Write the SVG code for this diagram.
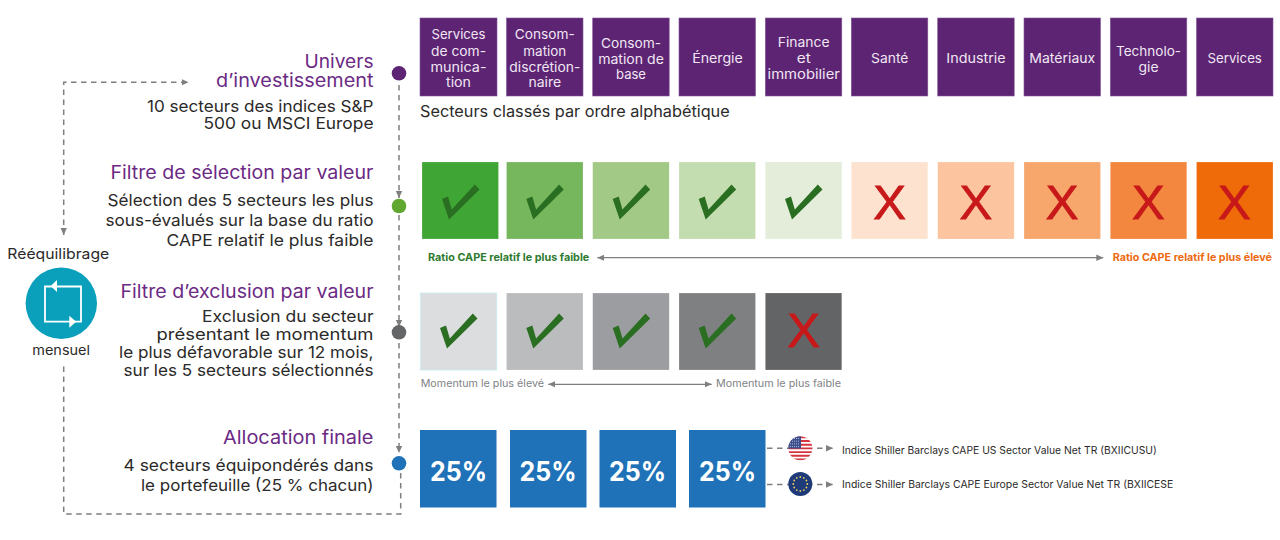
<svg xmlns="http://www.w3.org/2000/svg" width="1280" height="540" viewBox="0 0 1280 540">
<style>
text{font-family:Inter,"Noto Sans","Liberation Sans",sans-serif;}
.h{font-size:18.5px;fill:#6b2a84;text-anchor:end}
.b{font-size:16.5px;fill:#2b2a29;text-anchor:end}
.t{font-size:13.5px;fill:#f1e6f4;text-anchor:middle}
.p{fill:#5c2472;stroke:#83579a;stroke-width:.6}
.s{stroke:#fff;stroke-opacity:.35;stroke-width:.6}
.x{font-family:"Liberation Sans",Arial,sans-serif;font-size:49px;fill:#c8191a;stroke:#c8191a;stroke-width:.9;text-anchor:middle}
.p25{font-size:27px;font-weight:700;fill:#fff;text-anchor:middle}
.d{fill:none;stroke:#7f7f7f;stroke-width:1.5;stroke-dasharray:5.5 4.5}
.l{fill:none;stroke:#7f7f7f;stroke-width:1.3}
.m{font-size:10.5px;fill:#808285}
.r{font-size:10.5px;font-weight:700}
.i{font-size:10.5px;fill:#2b2a29}
.c{fill:#2a6e22}
</style>
<defs>
<marker id="ah" markerUnits="userSpaceOnUse" markerWidth="8" markerHeight="8" refX="7" refY="4" orient="auto-start-reverse"><path d="M0 .8L7 4L0 7.2z" fill="#7f7f7f"/></marker>
<polygon id="chk" points="0,14 6,11.5 9.8,24.5 32.8,-.5 37.5,4.5 7,34.5"/>
<clipPath id="us"><circle cx="800.3" cy="448.3" r="12"/></clipPath>
</defs>

<g id="connectors">
<path class="d" d="M399 85V198" marker-end="url(#ah)"/>
<path class="d" d="M399 215V327" marker-end="url(#ah)"/>
<path class="d" d="M399 343V453" marker-end="url(#ah)"/>
<path class="d" d="M400.7 473V514H63.7V363"/>
<path class="d" d="M63.7 235V82.3H188.5" marker-start="url(#ah)" marker-end="url(#ah)"/>
<path class="d" d="M767 448.3H833" marker-end="url(#ah)"/>
<path class="d" d="M767 484.5H833" marker-end="url(#ah)"/>
<path class="l" d="M597.3 257.7H1103.3" marker-start="url(#ah)" marker-end="url(#ah)"/>
<path class="l" d="M548.3 384.3H711.7" marker-start="url(#ah)" marker-end="url(#ah)"/>
</g>

<g id="step-univers">
<text class="h" x="373.5" y="68.3" textLength="69" lengthAdjust="spacingAndGlyphs">Univers</text>
<text class="h" x="373.5" y="87.3" textLength="157.5" lengthAdjust="spacingAndGlyphs">d’investissement</text>
<text class="b" x="373.5" y="111.7" textLength="226.5" lengthAdjust="spacingAndGlyphs">10 secteurs des indices S&amp;P</text>
<text class="b" x="373.5" y="129.3" textLength="170" lengthAdjust="spacingAndGlyphs">500 ou MSCI Europe</text>
<circle cx="399" cy="73.3" r="7.3" fill="#5c2472"/>
</g>
<g id="step-selection">
<text class="h" x="373.5" y="179.3" textLength="263" lengthAdjust="spacingAndGlyphs">Filtre de sélection par valeur</text>
<text class="b" x="373.5" y="205.7" textLength="266" lengthAdjust="spacingAndGlyphs">Sélection des 5 secteurs les plus</text>
<text class="b" x="373.5" y="225.7" textLength="268" lengthAdjust="spacingAndGlyphs">sous-évalués sur la base du ratio</text>
<text class="b" x="373.5" y="246" textLength="207" lengthAdjust="spacingAndGlyphs">CAPE relatif le plus faible</text>
<circle cx="399" cy="206" r="7.3" fill="#5fa72f"/>
</g>
<g id="step-exclusion">
<text class="h" x="373.5" y="297.7" textLength="253" lengthAdjust="spacingAndGlyphs">Filtre d’exclusion par valeur</text>
<text class="b" x="373.5" y="321.7" textLength="171.5" lengthAdjust="spacingAndGlyphs">Exclusion du secteur</text>
<text class="b" x="373.5" y="340" textLength="217" lengthAdjust="spacingAndGlyphs">présentant le momentum</text>
<text class="b" x="373.5" y="358" textLength="254.5" lengthAdjust="spacingAndGlyphs">le plus défavorable sur 12 mois,</text>
<text class="b" x="373.5" y="375.7" textLength="250" lengthAdjust="spacingAndGlyphs">sur les 5 secteurs sélectionnés</text>
<circle cx="399" cy="332.3" r="7.3" fill="#646567"/>
</g>
<g id="step-allocation">
<text class="h" x="373.5" y="444" textLength="150.5" lengthAdjust="spacingAndGlyphs">Allocation finale</text>
<text class="b" x="373.5" y="470.7" textLength="250" lengthAdjust="spacingAndGlyphs">4 secteurs équipondérés dans</text>
<text class="b" x="373.5" y="491" textLength="232.5" lengthAdjust="spacingAndGlyphs">le portefeuille (25 % chacun)</text>
<circle cx="399" cy="463.3" r="7.3" fill="#1f72b8"/>
</g>

<g id="rebalance">
<text x="7.3" y="259" font-size="14.5" fill="#2b2a29" textLength="102" lengthAdjust="spacingAndGlyphs">Rééquilibrage</text>
<circle cx="61.3" cy="303.3" r="35.7" fill="#0aa0bc"/>
<path d="M45 286.5H81V321.7H45z" fill="none" stroke="#fff" stroke-width="1.8"/>
<path d="M50.7 286L57 280V292z M76.2 321.7L69.3 315.7V327.7z" fill="#fff"/>
<text x="32.3" y="354.7" font-size="13.5" fill="#2b2a29" textLength="57.7" lengthAdjust="spacingAndGlyphs">mensuel</text>
</g>

<g id="sectors">
<g id="sector-1"><rect class="p" x="420" y="18" width="77" height="78"/><text class="t" x="458.5" y="39.3" textLength="54" lengthAdjust="spacingAndGlyphs">Services</text><text class="t" x="458.5" y="56" textLength="55" lengthAdjust="spacingAndGlyphs">de com-</text><text class="t" x="458.5" y="71.7" textLength="56" lengthAdjust="spacingAndGlyphs">munica-</text><text class="t" x="458.5" y="87.3" textLength="25" lengthAdjust="spacingAndGlyphs">tion</text></g>
<g id="sector-2"><rect class="p" x="506.5" y="18" width="76.5" height="78"/><text class="t" x="544.8" y="39.3" textLength="60" lengthAdjust="spacingAndGlyphs">Consom-</text><text class="t" x="544.8" y="56" textLength="43" lengthAdjust="spacingAndGlyphs">mation</text><text class="t" x="544.8" y="71.7" textLength="71" lengthAdjust="spacingAndGlyphs">discrétion-</text><text class="t" x="544.8" y="87.3" textLength="32.7" lengthAdjust="spacingAndGlyphs">naire</text></g>
<g id="sector-3"><rect class="p" x="592.7" y="18" width="76.5" height="78"/><text class="t" x="631" y="47.7" textLength="60" lengthAdjust="spacingAndGlyphs">Consom-</text><text class="t" x="631" y="63.7" textLength="65.7" lengthAdjust="spacingAndGlyphs">mation de</text><text class="t" x="631" y="79.3" textLength="30" lengthAdjust="spacingAndGlyphs">base</text></g>
<g id="sector-4"><rect class="p" x="679" y="18" width="76.5" height="78"/><text class="t" x="717.5" y="63.3" textLength="50.7" lengthAdjust="spacingAndGlyphs">Énergie</text></g>
<g id="sector-5"><rect class="p" x="765.3" y="18" width="76.5" height="78"/><text class="t" x="803.7" y="47.3" textLength="52" lengthAdjust="spacingAndGlyphs">Finance</text><text class="t" x="803.7" y="63.3" textLength="14" lengthAdjust="spacingAndGlyphs">et</text><text class="t" x="803.7" y="79.3" textLength="72.3" lengthAdjust="spacingAndGlyphs">immobilier</text></g>
<g id="sector-6"><rect class="p" x="851.3" y="18" width="76.5" height="78"/><text class="t" x="889.7" y="63.3" textLength="37.3" lengthAdjust="spacingAndGlyphs">Santé</text></g>
<g id="sector-7"><rect class="p" x="937.7" y="18" width="76.5" height="78"/><text class="t" x="976" y="63.3" textLength="59.3" lengthAdjust="spacingAndGlyphs">Industrie</text></g>
<g id="sector-8"><rect class="p" x="1024" y="18" width="76.5" height="78"/><text class="t" x="1062.3" y="63.3" textLength="66" lengthAdjust="spacingAndGlyphs">Matériaux</text></g>
<g id="sector-9"><rect class="p" x="1110.3" y="18" width="76.5" height="78"/><text class="t" x="1148.5" y="55.7" textLength="65" lengthAdjust="spacingAndGlyphs">Technolo-</text><text class="t" x="1148.5" y="71.7" textLength="20" lengthAdjust="spacingAndGlyphs">gie</text></g>
<g id="sector-10"><rect class="p" x="1196.5" y="18" width="76.5" height="78"/><text class="t" x="1234.7" y="63.3" textLength="54.3" lengthAdjust="spacingAndGlyphs">Services</text></g>
<text x="420" y="116.7" font-size="15.5" fill="#2b2a29" textLength="309.7" lengthAdjust="spacingAndGlyphs">Secteurs classés par ordre alphabétique</text>
</g>

<g id="value-filter">
<g id="v1"><rect class="s" x="422" y="162" width="76.5" height="77" fill="#3fa535"/><use href="#chk" class="c" x="442" y="185"/></g>
<g id="v2"><rect class="s" x="506.5" y="162" width="76.5" height="77" fill="#76b65d"/><use href="#chk" class="c" x="526.3" y="185"/></g>
<g id="v3"><rect class="s" x="592.7" y="162" width="76.5" height="77" fill="#a2c985"/><use href="#chk" class="c" x="612.7" y="185"/></g>
<g id="v4"><rect class="s" x="679" y="162" width="76.5" height="77" fill="#c3dcb0"/><use href="#chk" class="c" x="698.7" y="185"/></g>
<g id="v5"><rect class="s" x="765.3" y="162" width="76.5" height="77" fill="#e4edd9"/><use href="#chk" class="c" x="785" y="185"/></g>
<g id="v6"><rect class="s" x="851.3" y="162" width="76.5" height="77" fill="#fde3cf"/><text class="x" x="889.5" y="219.3">X</text></g>
<g id="v7"><rect class="s" x="937.7" y="162" width="76.5" height="77" fill="#fcc5a0"/><text class="x" x="975.8" y="219.3">X</text></g>
<g id="v8"><rect class="s" x="1024" y="162" width="76.5" height="77" fill="#f7a76c"/><text class="x" x="1062" y="219.3">X</text></g>
<g id="v9"><rect class="s" x="1110.3" y="162" width="76.5" height="77" fill="#f3873f"/><text class="x" x="1148.3" y="219.3">X</text></g>
<g id="v10"><rect class="s" x="1196.5" y="162" width="76.5" height="77" fill="#ef6a08"/><text class="x" x="1234.3" y="219.3">X</text></g>
<text class="r" x="428" y="260.7" fill="#2e7a2e" textLength="161.3" lengthAdjust="spacingAndGlyphs">Ratio CAPE relatif le plus faible</text>
<text class="r" x="1112.7" y="260.7" fill="#ee6a10" textLength="159.3" lengthAdjust="spacingAndGlyphs">Ratio CAPE relatif le plus élevé</text>
</g>

<g id="momentum-filter">
<g id="e1"><rect x="420.3" y="293" width="76.5" height="77" fill="#dcddde" stroke="#c9eef2" stroke-width=".8"/><use href="#chk" class="c" x="440" y="314"/></g>
<g id="e2"><rect class="s" x="506.5" y="293" width="76.5" height="77" fill="#bbbcbe"/><use href="#chk" class="c" x="526.3" y="314"/></g>
<g id="e3"><rect class="s" x="592.7" y="293" width="76.5" height="77" fill="#9c9da0"/><use href="#chk" class="c" x="612.7" y="314"/></g>
<g id="e4"><rect class="s" x="679" y="293" width="76.5" height="77" fill="#7f8082"/><use href="#chk" class="c" x="698.7" y="314"/></g>
<g id="e5"><rect class="s" x="765.3" y="293" width="76.5" height="77" fill="#636466"/><text class="x" x="803.5" y="347">X</text></g>
<text class="m" x="420.7" y="387.3" textLength="123.3" lengthAdjust="spacingAndGlyphs">Momentum le plus élevé</text>
<text class="m" x="716" y="387.3" textLength="125" lengthAdjust="spacingAndGlyphs">Momentum le plus faible</text>
</g>

<g id="allocation">
<g id="a1"><rect x="420" y="430" width="76.5" height="77.5" fill="#1f72b8"/><text class="p25" x="458.5" y="481" textLength="57" lengthAdjust="spacingAndGlyphs">25%</text></g>
<g id="a2"><rect x="510" y="430" width="76.5" height="77.5" fill="#1f72b8"/><text class="p25" x="548" y="481" textLength="57" lengthAdjust="spacingAndGlyphs">25%</text></g>
<g id="a3"><rect x="599.5" y="430" width="76.5" height="77.5" fill="#1f72b8"/><text class="p25" x="637.5" y="481" textLength="57" lengthAdjust="spacingAndGlyphs">25%</text></g>
<g id="a4"><rect x="689" y="430" width="76.5" height="77.5" fill="#1f72b8"/><text class="p25" x="727.5" y="481" textLength="57" lengthAdjust="spacingAndGlyphs">25%</text></g>
</g>

<g id="index-us">
<g clip-path="url(#us)">
<rect x="788" y="436" width="25" height="25" fill="#fff"/>
<path d="M788 437.2h25M788 441h25M788 444.7h25M788 448.4h25M788 452.1h25M788 455.8h25M788 459.5h25" stroke="#d5343f" stroke-width="1.9"/>
<rect x="788" y="436" width="13" height="12.5" fill="#3c4f8c"/>
<path d="M790 438.5h10M790 441.2h10M790 443.9h10M790 446.6h10" stroke="#c9d1e6" stroke-width=".8" stroke-dasharray="1 1"/>
</g>
<text class="i" x="842" y="454" textLength="314.7" lengthAdjust="spacingAndGlyphs">Indice Shiller Barclays CAPE US Sector Value Net TR (BXIICUSU)</text>
</g>
<g id="index-eu">
<circle cx="800.3" cy="484" r="12" fill="#1f3a78"/>
<g fill="#e9cf5a">
<circle cx="800.3" cy="477" r=".9"/><circle cx="803.8" cy="477.9" r=".9"/><circle cx="806.4" cy="480.5" r=".9"/><circle cx="807.3" cy="484" r=".9"/><circle cx="806.4" cy="487.5" r=".9"/><circle cx="803.8" cy="490.1" r=".9"/><circle cx="800.3" cy="491" r=".9"/><circle cx="796.8" cy="490.1" r=".9"/><circle cx="794.2" cy="487.5" r=".9"/><circle cx="793.3" cy="484" r=".9"/><circle cx="794.2" cy="480.5" r=".9"/><circle cx="796.8" cy="477.9" r=".9"/>
</g>
<text class="i" x="842" y="488.3" textLength="331.3" lengthAdjust="spacingAndGlyphs">Indice Shiller Barclays CAPE Europe Sector Value Net TR (BXIICESE</text>
</g>
</svg>
